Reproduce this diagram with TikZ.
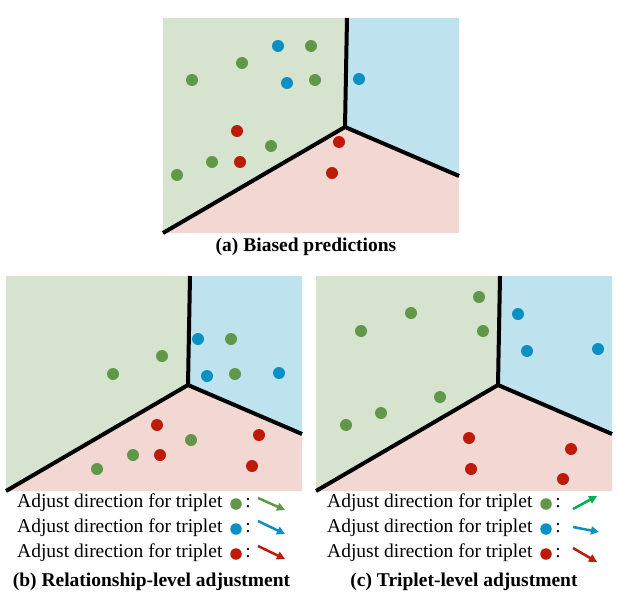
\documentclass[tikz,border=0pt]{standalone}
\usepackage{fontspec}
\setmainfont{Liberation Serif}
\usetikzlibrary{arrows.meta}
\definecolor{rg}{RGB}{213,227,207}
\definecolor{rb}{RGB}{190,226,238}
\definecolor{rr}{RGB}{242,215,211}
\definecolor{dg}{RGB}{96,151,72}
\definecolor{db}{RGB}{11,144,196}
\definecolor{dr}{RGB}{189,26,8}
\definecolor{ag}{RGB}{0,176,80}
\tikzset{
 dot/.style={circle,inner sep=0pt,minimum size=12pt},
 gd/.style={dot,fill=dg}, bd/.style={dot,fill=db}, rd/.style={dot,fill=dr},
 ld/.style={circle,inner sep=0pt,minimum size=11.5pt},
 border/.style={line width=4pt},
 legtext/.style={anchor=west,font=\fontsize{19.5}{23}\selectfont,inner sep=0pt},
 colon/.style={font=\fontsize{19.5}{23}\selectfont,inner sep=0pt},
 capt/.style={font=\fontsize{19.5}{23}\selectfont\bfseries,inner sep=0pt},
 adj/.style={line width=2.5pt,-{Triangle[length=8pt,width=8pt]}},
 panel/.pic={
   \fill[rg] (0,0) -- (184,0) -- (182,109) -- (0,215) -- cycle;
   \fill[rb] (184,0) -- (296,0) -- (296,158) -- (182,109) -- cycle;
   \fill[rr] (182,109) -- (296,158) -- (296,215) -- (0,215) -- cycle;
   \draw[border] (184,0) -- (182,109) -- (296,158) (182,109) -- (0,215);
 }
}
\begin{document}
\begin{tikzpicture}[x=1pt,y=-1pt]
\useasboundingbox (0,0) rectangle (626,607);
\fill[white] (0,0) rectangle (626,607);
% panels
\pic at (163,18) {panel};
\pic at (6,276) {panel};
\pic at (316,276) {panel};
% (a) dots
\node[gd] (a1) at (311,46) {};
\node[gd] (a2) at (242,63) {};
\node[gd] (a3) at (192,80) {};
\node[gd] (a4) at (315,80) {};
\node[gd] (a5) at (271,146) {};
\node[gd] (a6) at (212,162) {};
\node[gd] (a7) at (177,175) {};
\node[bd] (a8) at (278,46) {};
\node[bd] (a9) at (287,83) {};
\node[bd] (a10) at (359,79) {};
\node[rd] (a11) at (237,131) {};
\node[rd] (a12) at (240,162) {};
\node[rd] (a13) at (339,142) {};
\node[rd] (a14) at (332,173) {};
\node[capt] (capa) at (306,247) {(a) Biased predictions};
% (b) dots
\node[bd] (b1) at (198,339) {};
\node[bd] (b2) at (207,376) {};
\node[bd] (b3) at (279,373) {};
\node[gd] (b4) at (231,339) {};
\node[gd] (b5) at (235,374) {};
\node[gd] (b6) at (162,356) {};
\node[gd] (b7) at (113,374) {};
\node[gd] (b8) at (191,440) {};
\node[gd] (b9) at (133,455) {};
\node[gd] (b10) at (97,469) {};
\node[rd] (b11) at (157,425) {};
\node[rd] (b12) at (160,455) {};
\node[rd] (b13) at (259,435) {};
\node[rd] (b14) at (252,466) {};
% (c) dots
\node[gd] (c1) at (479,297) {};
\node[gd] (c2) at (411,313) {};
\node[gd] (c3) at (361,331) {};
\node[gd] (c4) at (483,331) {};
\node[gd] (c5) at (440,397) {};
\node[gd] (c6) at (381,413) {};
\node[gd] (c7) at (346,425) {};
\node[bd] (c8) at (518,314) {};
\node[bd] (c9) at (527,351) {};
\node[bd] (c10) at (598,349) {};
\node[rd] (c11) at (469,438) {};
\node[rd] (c12) at (471,469) {};
\node[rd] (c13) at (571,449) {};
\node[rd] (c14) at (563,479) {};
% legend (b)
\node[legtext] (bt1) at (17,503) {Adjust direction for triplet};
\node[legtext] (bt2) at (17,528) {Adjust direction for triplet};
\node[legtext] (bt3) at (17,553) {Adjust direction for triplet};
\node[ld,fill=dg] (bl1) at (236,504) {};
\node[ld,fill=db] (bl2) at (236,529) {};
\node[ld,fill=dr] (bl3) at (236,554) {};
\node[colon] (bc1) at (248,503) {:};
\node[colon] (bc2) at (248,528) {:};
\node[colon] (bc3) at (248,553) {:};
\coordinate (bs1) at (258,498); \coordinate (be1) at (285,510);
\coordinate (bs2) at (258,521); \coordinate (be2) at (285,534);
\coordinate (bs3) at (258,546); \coordinate (be3) at (285,559);
\draw[adj,dg] (bs1) -- (be1);
\draw[adj,db] (bs2) -- (be2);
\draw[adj,dr] (bs3) -- (be3);
\node[capt] (capb) at (151.5,582) {(b) Relationship-level adjustment};
% legend (c)
\node[legtext] (ct1) at (327,503) {Adjust direction for triplet};
\node[legtext] (ct2) at (327,528) {Adjust direction for triplet};
\node[legtext] (ct3) at (327,553) {Adjust direction for triplet};
\node[ld,fill=dg] (cl1) at (546,504) {};
\node[ld,fill=db] (cl2) at (546,529) {};
\node[ld,fill=dr] (cl3) at (546,554) {};
\node[colon] (cc1) at (558,503) {:};
\node[colon] (cc2) at (558,528) {:};
\node[colon] (cc3) at (558,553) {:};
\coordinate (cs1) at (573,509); \coordinate (ce1) at (597,496);
\coordinate (cs2) at (573,527); \coordinate (ce2) at (599,532);
\coordinate (cs3) at (573,548); \coordinate (ce3) at (597,562);
\draw[adj,ag] (cs1) -- (ce1);
\draw[adj,db] (cs2) -- (ce2);
\draw[adj,dr] (cs3) -- (ce3);
\node[capt] (capc) at (464,582) {(c) Triplet-level adjustment};
\end{tikzpicture}
\end{document}
